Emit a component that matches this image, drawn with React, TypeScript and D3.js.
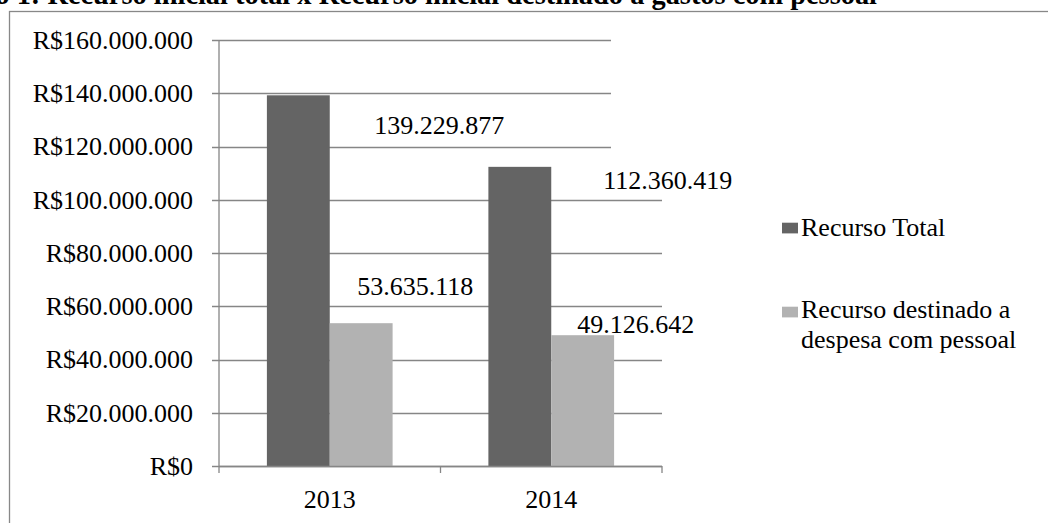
import React from "react";
import * as d3 from "d3";

const categories = ["2013", "2014"];
const seriesNames = ["Recurso Total", "Recurso destinado a despesa com pessoal"];
const recursoTotal = [139229877, 112360419];
const recursoPessoal = [53635118, 49126642];
const yTicks = [0, 20000000, 40000000, 60000000, 80000000, 100000000, 120000000, 140000000, 160000000];
const colors = ["#646464", "#b2b2b2"];
// manual label offsets (dx from bar centre, dy from bar top to baseline)
const labelOffsets = [
  [[141, 39], [148, 22.5]],
  [[54, -28], [53, -2]],
];

const fmtNum = (v: number) =>
  String(v).replace(/\B(?=(\d{3})+(?!\d))/g, ".");

export default function App() {
  const W = 1048, H = 523;
  const left = 219, right = 662, top = 40, bottom = 466;
  const y = d3.scaleLinear().domain([0, 160000000]).range([bottom, top]);
  const x0 = d3.scaleBand<string>().domain(categories).range([left, right]);
  const x1 = d3
    .scaleBand<number>()
    .domain([0, 1])
    .range([0, x0.bandwidth()])
    .paddingInner(0)
    .paddingOuter(0.762);
  const series = [recursoTotal, recursoPessoal];
  const font = "'Liberation Serif', 'Times New Roman', serif";
  const grid = "#868686";

  return (
    <svg
      width={W}
      height={H}
      style={{ position: "absolute", left: 0, top: 0, background: "#fff" }}
      fontFamily={font}
    >
      <rect x={9.5} y={11.5} width={W} height={H} fill="none" stroke="#888" strokeWidth={1.3} />
      <text x={877} y={4} textAnchor="end" fontSize={28.4} fontWeight="bold" fill="#000" fontFamily={font}>
        Gráfico 1: Recurso inicial total x Recurso inicial destinado a gastos com pessoal
      </text>
      {yTicks.map((t) => (
        <g key={t}>
          <line
            x1={212}
            x2={t >= 120000000 ? 611 : right}
            y1={Math.round(y(t)) + 0.5}
            y2={Math.round(y(t)) + 0.5}
            stroke={grid}
            strokeWidth={1.3}
          />
          <text x={193} y={y(t) + 8.8} textAnchor="end" fontSize={26} fill="#000" fontFamily={font}>
            {"R$" + fmtNum(t)}
          </text>
        </g>
      ))}
      {[left, ...categories.map((c) => (x0(c) as number) + x0.bandwidth()), right]
        .filter((v, i, a) => a.indexOf(v) === i)
        .map((xv) => (
          <line key={xv} x1={xv} x2={xv} y1={bottom} y2={bottom + 7} stroke={grid} strokeWidth={1.3} />
        ))}
      <line x1={left} x2={left} y1={top} y2={bottom} stroke={grid} strokeWidth={1.3} />
      {series.map((vals, si) =>
        vals.map((v, ci) => {
          const bx = (x0(categories[ci]) as number) + (x1(si) as number);
          return (
            <rect
              key={si + "-" + ci}
              x={bx}
              y={y(v)}
              width={x1.bandwidth()}
              height={bottom - y(v)}
              fill={colors[si]}
            />
          );
        })
      )}
      <line x1={left} x2={right} y1={bottom + 0.5} y2={bottom + 0.5} stroke={grid} strokeWidth={1.3} />
      {series.map((vals, si) =>
        vals.map((v, ci) => {
          const cx = (x0(categories[ci]) as number) + (x1(si) as number) + x1.bandwidth() / 2;
          const [dx, dy] = labelOffsets[si][ci];
          return (
            <text key={"l" + si + ci} x={cx + dx} y={y(v) + dy} textAnchor="middle" fontSize={26} fill="#000" fontFamily={font}>
              {fmtNum(v)}
            </text>
          );
        })
      )}
      {categories.map((c) => (
        <text
          key={c}
          x={(x0(c) as number) + x0.bandwidth() / 2}
          y={508}
          textAnchor="middle"
          fontSize={26}
          fill="#000"
          fontFamily={font}
        >
          {c}
        </text>
      ))}
      <rect x={782} y={222.7} width={16} height={10.7} fill={colors[0]} />
      <text x={801} y={235.7} fontSize={26} fill="#000" fontFamily={font}>{seriesNames[0]}</text>
      <rect x={782} y={306.7} width={16} height={10.7} fill={colors[1]} />
      <text x={801} y={318.3} fontSize={26} fill="#000" fontFamily={font}>
        <tspan x={801}>Recurso destinado a</tspan>
        <tspan x={801} dy={30}>despesa com pessoal</tspan>
      </text>
    </svg>
  );
}
